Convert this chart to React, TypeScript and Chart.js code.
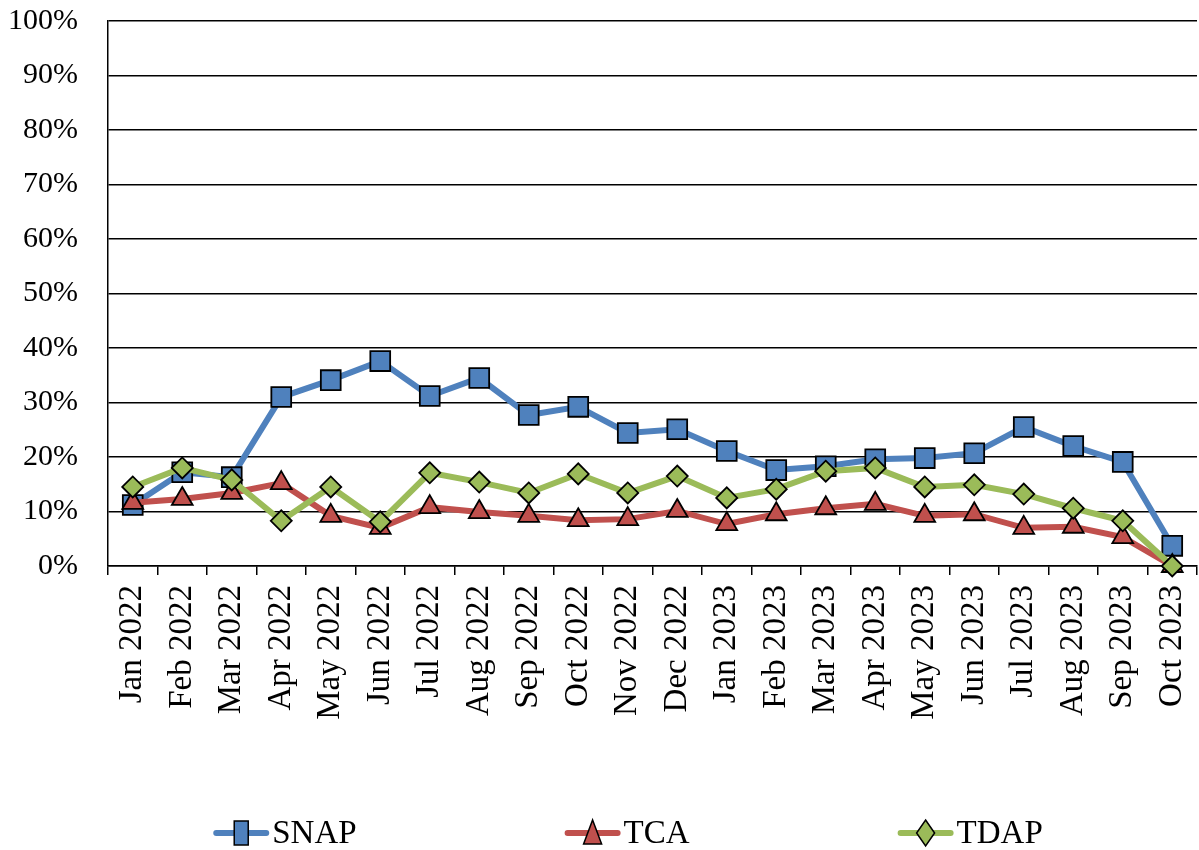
import React, { useEffect, useRef } from "react";
import { Chart, registerables } from "chart.js";

Chart.register(...registerables);

const categories = [
  "Jan 2022", "Feb 2022", "Mar 2022", "Apr 2022", "May 2022", "Jun 2022",
  "Jul 2022", "Aug 2022", "Sep 2022", "Oct 2022", "Nov 2022", "Dec 2022",
  "Jan 2023", "Feb 2023", "Mar 2023", "Apr 2023", "May 2023", "Jun 2023",
  "Jul 2023", "Aug 2023", "Sep 2023", "Oct 2023",
];

const snapValues = [
  11.2, 17.2, 16.3, 31.0, 34.1, 37.6, 31.2, 34.5, 27.7, 29.2, 24.4, 25.1,
  21.1, 17.6, 18.3, 19.6, 19.8, 20.7, 25.5, 22.0, 19.1, 3.7,
];

const tcaValues = [
  11.6, 12.3, 13.4, 15.2, 9.2, 7.0, 10.8, 9.9, 9.2, 8.4, 8.6, 10.1,
  7.7, 9.5, 10.6, 11.4, 9.2, 9.5, 7.0, 7.2, 5.3, 0,
];

const tdapValues = [
  14.5, 18.0, 15.8, 8.3, 14.5, 8.1, 17.1, 15.4, 13.4, 16.9, 13.4, 16.5,
  12.5, 14.1, 17.4, 18.0, 14.5, 14.9, 13.2, 10.6, 8.3, 0,
];

const seriesNames = ["SNAP", "TCA", "TDAP"];
const seriesColors = ["#4F81BD", "#C0504D", "#9BBB59"];
const yTicks = [0, 10, 20, 30, 40, 50, 60, 70, 80, 90, 100];

const FONT = "'Liberation Serif', 'Times New Roman', serif";

const legendPlugin = {
  id: "excelLegend",
  afterDraw(chart: any) {
    const ctx = chart.ctx;
    const y = 833;
    const lineLen = 56;
    const textGap = 3;
    const gap = 208;
    ctx.save();
    ctx.font = `33px ${FONT}`;
    const widths = chart.data.datasets.map((d: any) => ctx.measureText(d.label).width);
    const itemWidths = widths.map((w: number) => lineLen + textGap + w);
    const total = itemWidths.reduce((a: number, b: number) => a + b, 0) + gap * (itemWidths.length - 1);
    let x = 628 - total / 2;
    chart.data.datasets.forEach((d: any, i: number) => {
      ctx.strokeStyle = d.borderColor;
      ctx.lineWidth = 6;
      ctx.lineCap = "round";
      ctx.beginPath();
      ctx.moveTo(x + 3, y);
      ctx.lineTo(x + lineLen - 3, y);
      ctx.stroke();
      const cx = x + lineLen / 2;
      ctx.fillStyle = d.backgroundColor;
      ctx.strokeStyle = "#000";
      ctx.lineWidth = 1.5;
      ctx.beginPath();
      if (d.pointStyle === "rect") {
        ctx.rect(cx - 7, y - 12, 14, 24);
      } else if (d.pointStyle === "triangle") {
        ctx.moveTo(cx, y - 13);
        ctx.lineTo(cx + 9, y + 11);
        ctx.lineTo(cx - 9, y + 11);
        ctx.closePath();
      } else {
        ctx.moveTo(cx, y - 13);
        ctx.lineTo(cx + 9, y);
        ctx.lineTo(cx, y + 13);
        ctx.lineTo(cx - 9, y);
        ctx.closePath();
      }
      ctx.fill();
      ctx.stroke();
      ctx.fillStyle = "#000";
      ctx.textBaseline = "middle";
      ctx.textAlign = "left";
      ctx.fillText(d.label, x + lineLen + textGap, y + 1);
      x += itemWidths[i] + gap;
    });
    ctx.restore();
  },
};

export default function App() {
  const canvasRef = useRef<HTMLCanvasElement | null>(null);

  useEffect(() => {
    if (!canvasRef.current) return;
    const styles = ["rect", "triangle", "rectRot"];
    const radii = [14, 12, 10.5];
    const drawOrder = [3, 2, 1];
    const values = [snapValues, tcaValues, tdapValues];
    const chart = new Chart(canvasRef.current, {
      type: "line",
      data: {
        labels: categories,
        datasets: seriesNames.map((name, i) => ({
          label: name,
          data: values[i],
          order: drawOrder[i],
          clip: false as any,
          borderColor: seriesColors[i],
          backgroundColor: seriesColors[i],
          borderWidth: 6,
          tension: 0,
          pointStyle: styles[i] as any,
          pointRadius: radii[i],
          pointBorderColor: "#000",
          pointBorderWidth: 1.8,
          pointBackgroundColor: seriesColors[i],
        })),
      },
      options: {
        animation: false,
        responsive: false,
        maintainAspectRatio: false,
        devicePixelRatio: 1,
        layout: { autoPadding: false, padding: { top: 21, right: 2, left: 0, bottom: 0 } },
        plugins: {
          legend: { display: false },
          tooltip: { enabled: false },
        },
        scales: {
          x: {
            type: "category",
            offset: true,
            grid: {
              offset: true,
              drawOnChartArea: false,
              drawTicks: true,
              tickLength: 9,
              color: "#000",
              lineWidth: 1.5,
            },
            border: { display: true, color: "#000", width: 1.5 },
            ticks: {
              color: "#000",
              font: { family: FONT, size: 33 },
              maxRotation: 90,
              minRotation: 90,
              autoSkip: false,
              padding: 10,
            },
            afterFit(scale: any) {
              scale.height = 284;
              scale.paddingLeft = 0;
              scale.paddingRight = 0;
            },
          },
          y: {
            min: 0,
            max: 100,
            afterBuildTicks(scale: any) {
              scale.ticks = yTicks.map((v) => ({ value: v }));
            },
            grid: {
              color: "#000",
              lineWidth: 1.5,
              drawTicks: false,
            },
            border: { display: true, color: "#000", width: 1.5 },
            ticks: {
              color: "#000",
              font: { family: FONT, size: 30 },
              padding: 30,
              callback: (v: any) => `${v}%`,
            },
            afterFit(scale: any) {
              scale.width = 108;
              scale.paddingTop = 0;
              scale.paddingBottom = 0;
            },
          },
        },
      },
      plugins: [legendPlugin],
    });
    return () => chart.destroy();
  }, []);

  return (
    <div style={{ position: "fixed", left: 0, top: 0, width: 1199, height: 850, background: "#fff", overflow: "hidden" }}>
      <canvas ref={canvasRef} width={1199} height={850} style={{ display: "block" }} />
    </div>
  );
}
